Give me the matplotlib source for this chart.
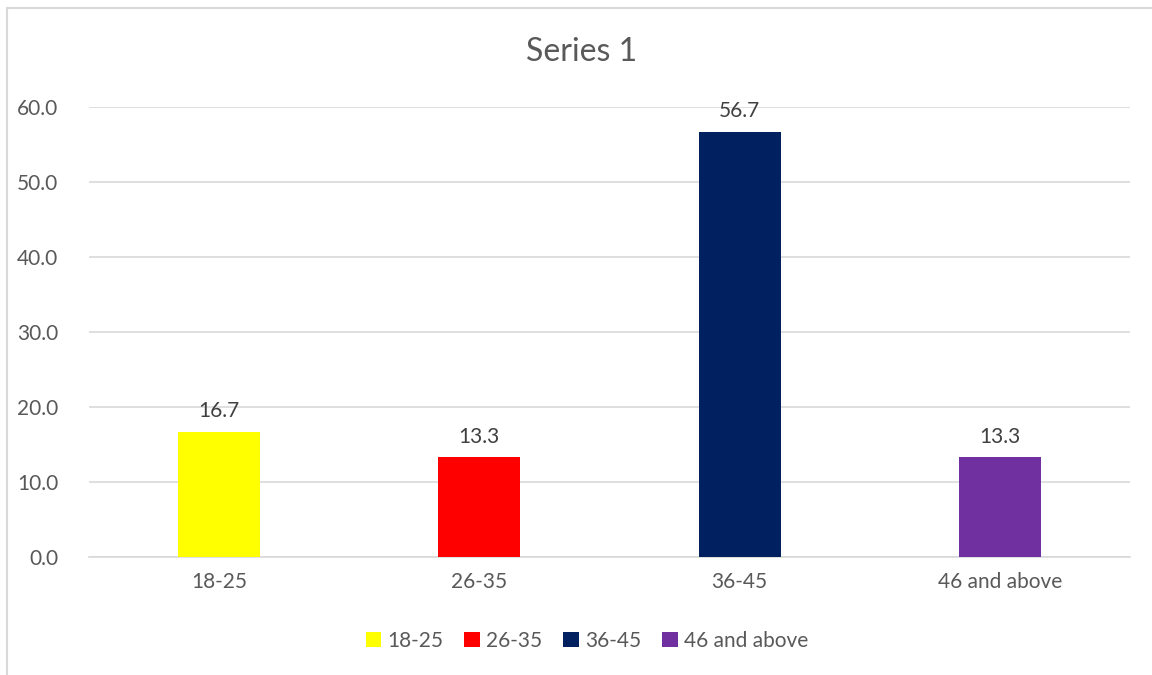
import matplotlib
matplotlib.use("Agg")
import matplotlib.pyplot as plt
from matplotlib.lines import Line2D
from matplotlib.patches import Patch

categories = ["18-25", "26-35", "36-45", "46 and above"]
values = [16.7, 13.3, 56.7, 13.3]
colors = ["#FFFF00", "#FF0000", "#002060", "#7030A0"]
yticks = [0, 10, 20, 30, 40, 50, 60]
title = "Series 1"

plt.rcParams['font.family'] = ['Lato', 'DejaVu Sans']
txt = "#595959"
fs = 15

W, H = 1152, 675
fig = plt.figure(figsize=(W/100, H/100), dpi=100)
ax = fig.add_axes([89/W, 1-557/H, (1130-89)/W, (557-107)/H])

x = list(range(len(categories)))
bars = ax.bar(x, values, width=0.315, color=colors, zorder=3)
for xi, v in zip(x, values):
    ax.text(xi, v + 1.4, f"{v:.1f}", ha="center", va="bottom", fontsize=fs, color="#404040")

ax.set_xlim(-0.5, len(categories) - 0.5)
ax.set_ylim(0, 60)
ax.set_yticks(yticks)
ax.set_yticklabels([f"{t:.1f}" for t in yticks], fontsize=fs, color=txt)
ax.set_xticks(x)
ax.set_xticklabels(categories, fontsize=fs, color=txt)
ax.tick_params(axis="both", length=0)
ax.tick_params(axis="y", pad=22)
ax.tick_params(axis="x", pad=11)
ax.grid(axis="y", color="#D9D9D9", linewidth=1.2, zorder=0)
for s in ["top", "right", "left"]:
    ax.spines[s].set_visible(False)
ax.spines["bottom"].set_color("#D9D9D9")
ax.spines["bottom"].set_linewidth(1.2)

fig.text(582/W, 1 - 52/H, title, ha="center", va="center", fontsize=23, color=txt)

handles = [Patch(facecolor=c, edgecolor="none") for c in colors]
fig.legend(handles, categories, loc="center", bbox_to_anchor=(587/W, 1-641/H), ncol=4,
           frameon=False, fontsize=fs, labelcolor=txt, handlelength=0.75, handleheight=0.75,
           handletextpad=0.3, columnspacing=1.0)

fig.add_artist(Line2D([6.5/W, 6.5/W], [0, 1-8/H], color="#D9D9D9", linewidth=1.5))
fig.add_artist(Line2D([6.5/W, 1], [1-8/H, 1-8/H], color="#D9D9D9", linewidth=1.5))

fig.savefig("out.png", dpi=100)
